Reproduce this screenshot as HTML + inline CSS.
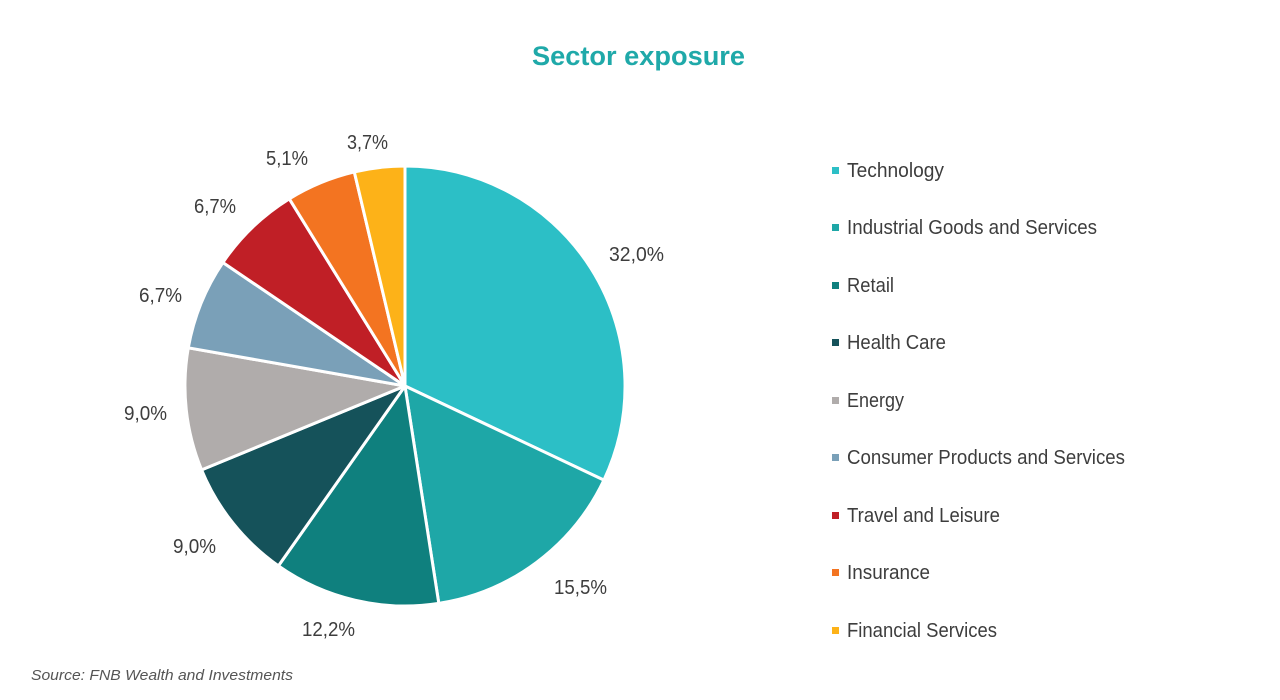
<!DOCTYPE html>
<html><head><meta charset="utf-8"><style>
html,body{margin:0;padding:0;background:#fff;}
svg{display:block;}
</style></head><body>
<svg width="1280" height="700" viewBox="0 0 1280 700" xmlns="http://www.w3.org/2000/svg">
<text x="638.5" y="65" text-anchor="middle" font-family="Liberation Sans, sans-serif" font-weight="bold" font-size="27" fill="#1fa9a9" textLength="213" lengthAdjust="spacingAndGlyphs">Sector exposure</text>
<g stroke="#fff" stroke-width="3" stroke-linejoin="round">
<path d="M405,386 L405,166 A220,220 0 0 1 603.9,480.1 Z" fill="#2cbfc6"/>
<path d="M405,386 L603.9,480.1 A220,220 0 0 1 438.8,603.4 Z" fill="#1ea7a7"/>
<path d="M405,386 L438.8,603.4 A220,220 0 0 1 278.4,565.9 Z" fill="#0f807e"/>
<path d="M405,386 L278.4,565.9 A220,220 0 0 1 201.6,469.9 Z" fill="#15525a"/>
<path d="M405,386 L201.6,469.9 A220,220 0 0 1 188.3,347.8 Z" fill="#b0acab"/>
<path d="M405,386 L188.3,347.8 A220,220 0 0 1 222.9,262.5 Z" fill="#7aa0b8"/>
<path d="M405,386 L222.9,262.5 A220,220 0 0 1 289.3,198.8 Z" fill="#c01f26"/>
<path d="M405,386 L289.3,198.8 A220,220 0 0 1 354.3,171.9 Z" fill="#f37421"/>
<path d="M405,386 L354.3,171.9 A220,220 0 0 1 405,166 Z" fill="#fdb218"/>
</g>
<g font-family="Liberation Sans, sans-serif" font-size="20" fill="#3d3d3d">
<text x="609" y="261" textLength="55" lengthAdjust="spacingAndGlyphs">32,0%</text>
<text x="554" y="594" textLength="53" lengthAdjust="spacingAndGlyphs">15,5%</text>
<text x="302" y="636" textLength="53" lengthAdjust="spacingAndGlyphs">12,2%</text>
<text x="173" y="553" textLength="43" lengthAdjust="spacingAndGlyphs">9,0%</text>
<text x="124" y="420" textLength="43" lengthAdjust="spacingAndGlyphs">9,0%</text>
<text x="139" y="302" textLength="43" lengthAdjust="spacingAndGlyphs">6,7%</text>
<text x="194" y="213" textLength="42" lengthAdjust="spacingAndGlyphs">6,7%</text>
<text x="266" y="165" textLength="42" lengthAdjust="spacingAndGlyphs">5,1%</text>
<text x="347" y="149" textLength="41" lengthAdjust="spacingAndGlyphs">3,7%</text>
</g>
<g>
<rect x="832" y="167" width="7" height="7" fill="#2cbfc6"/>
<rect x="832" y="224" width="7" height="7" fill="#1ea7a7"/>
<rect x="832" y="282" width="7" height="7" fill="#0f807e"/>
<rect x="832" y="339" width="7" height="7" fill="#15525a"/>
<rect x="832" y="397" width="7" height="7" fill="#b0acab"/>
<rect x="832" y="454" width="7" height="7" fill="#7aa0b8"/>
<rect x="832" y="512" width="7" height="7" fill="#c01f26"/>
<rect x="832" y="569" width="7" height="7" fill="#f37421"/>
<rect x="832" y="627" width="7" height="7" fill="#fdb218"/>
</g>
<g font-family="Liberation Sans, sans-serif" font-size="20" fill="#3d3d3d">
<text x="847" y="177" textLength="97" lengthAdjust="spacingAndGlyphs">Technology</text>
<text x="847" y="234" textLength="250" lengthAdjust="spacingAndGlyphs">Industrial Goods and Services</text>
<text x="847" y="292" textLength="47" lengthAdjust="spacingAndGlyphs">Retail</text>
<text x="847" y="349" textLength="99" lengthAdjust="spacingAndGlyphs">Health Care</text>
<text x="847" y="407" textLength="57" lengthAdjust="spacingAndGlyphs">Energy</text>
<text x="847" y="464" textLength="278" lengthAdjust="spacingAndGlyphs">Consumer Products and Services</text>
<text x="847" y="522" textLength="153" lengthAdjust="spacingAndGlyphs">Travel and Leisure</text>
<text x="847" y="579" textLength="83" lengthAdjust="spacingAndGlyphs">Insurance</text>
<text x="847" y="637" textLength="150" lengthAdjust="spacingAndGlyphs">Financial Services</text>
</g>
<text x="31" y="680" font-family="Liberation Sans, sans-serif" font-style="italic" font-size="15" fill="#555" textLength="262" lengthAdjust="spacingAndGlyphs">Source: FNB Wealth and Investments</text>
</svg>
</body></html>
